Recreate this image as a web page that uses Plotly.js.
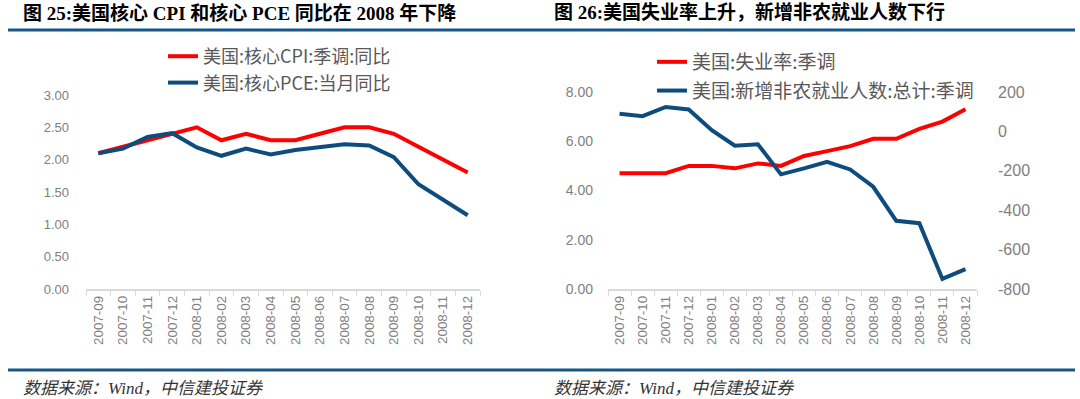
<!DOCTYPE html>
<html>
<head>
<meta charset="utf-8">
<script src="https://cdn.plot.ly/plotly-3.0.1.min.js"></script>
<style>html,body{margin:0;padding:0;background:#fff;}#chart{width:1080px;height:399px;}</style>
</head>
<body>
<div id="chart"></div>
<script>
// ---- data ----
const categories = ['2007-09','2007-10','2007-11','2007-12','2008-01','2008-02','2008-03','2008-04','2008-05','2008-06','2008-07','2008-08','2008-09','2008-10','2008-11','2008-12'];
const coreCPI = [2.1, 2.2, 2.3, 2.4, 2.5, 2.3, 2.4, 2.3, 2.3, 2.4, 2.5, 2.5, 2.4, 2.2, 2.0, 1.8];
const corePCE = [2.10, 2.17, 2.35, 2.41, 2.19, 2.06, 2.17, 2.08, 2.15, 2.20, 2.24, 2.22, 2.04, 1.62, 1.38, 1.14];
const unemployment = [4.7, 4.7, 4.7, 5.0, 5.0, 4.9, 5.1, 5.0, 5.4, 5.6, 5.8, 6.1, 6.1, 6.5, 6.8, 7.3];
const payrolls = [90, 77, 124, 111, 6, -73, -65, -218, -188, -154, -193, -281, -454, -466, -749, -699];
const payrollTickVals = [-800, -600, -400, -200, 0, 200];
const payrollTickText = ['-800', '-600', '-400', '-200', '0', '200'];
const seriesNames = ['美国:核心CPI:季调:同比', '美国:核心PCE:当月同比', '美国:失业率:季调', '美国:新增非农就业人数:总计:季调'];
const titles = ['图 25:美国核心 CPI 和核心 PCE 同比在 2008 年下降', '图 26:美国失业率上升，新增非农就业人数下行'];
const sourceText = '数据来源：Wind，中信建投证券';

// ---- styling ----
const W = 1080, H = 399;
const px = v => v / W;
const py = v => 1 - v / H;
const RED = '#FF0000', BLUE = '#0F4C7E', RULE = '#165689';
const tickFont = {family: 'Liberation Sans, Arial, sans-serif', color: '#808080'};
const legendFont = {family: 'Noto Sans CJK SC, sans-serif', color: '#595959'};

const traces = [
  {x: categories, y: coreCPI, name: seriesNames[0], legendgroup: 'a', type: 'scatter', mode: 'lines', xaxis: 'x', yaxis: 'y', legend: 'legend', line: {color: RED, width: 4}},
  {x: categories, y: corePCE, name: seriesNames[1], legendgroup: 'b', type: 'scatter', mode: 'lines', xaxis: 'x', yaxis: 'y', legend: 'legend', line: {color: BLUE, width: 4}},
  {x: categories, y: unemployment, name: seriesNames[2], legendgroup: 'c', type: 'scatter', mode: 'lines', xaxis: 'x2', yaxis: 'y2', legend: 'legend2', line: {color: RED, width: 4}},
  {x: categories, y: payrolls, name: seriesNames[3], legendgroup: 'd', type: 'scatter', mode: 'lines', xaxis: 'x2', yaxis: 'y3', legend: 'legend2', line: {color: BLUE, width: 4}}
];

const xCommon = {
  type: 'category', range: [-0.5, 15.5], showgrid: false, zeroline: false,
  showline: true, linecolor: '#D9D9D9', linewidth: 1.5,
  ticks: 'outside', tickson: 'boundaries', ticklen: 5, tickcolor: '#D9D9D9',
  tickangle: -90, tickfont: Object.assign({size: 13.4}, tickFont)
};

const layout = {
  width: W, height: H,
  margin: {l: 0, r: 0, t: 0, b: 0},
  paper_bgcolor: '#fff', plot_bgcolor: 'rgba(0,0,0,0)',
  showlegend: true,
  xaxis: Object.assign({}, xCommon, {domain: [px(86), px(480)], anchor: 'y'}),
  yaxis: {domain: [py(289), py(95)], range: [0, 3], dtick: 0.5, tickformat: '.2f', showgrid: false, zeroline: false, showline: false,
          anchor: 'x', ticks: '', ticklabelstandoff: 16, tickfont: Object.assign({size: 13}, tickFont)},
  xaxis2: Object.assign({}, xCommon, {domain: [px(608), px(977)], anchor: 'y2'}),
  yaxis2: {domain: [py(289), py(92)], range: [0, 8], dtick: 2, tickformat: '.2f', showgrid: false, zeroline: false, showline: false,
           anchor: 'x2', ticks: '', ticklabelstandoff: 14, tickfont: Object.assign({size: 14}, tickFont)},
  yaxis3: {domain: [py(289), py(92)], range: [-800, 200], tickvals: payrollTickVals, ticktext: payrollTickText, overlaying: 'y2', side: 'right',
           anchor: 'x2', showgrid: false, zeroline: false, showline: false, ticks: '', ticklabelstandoff: 20, tickfont: Object.assign({size: 16}, tickFont)},
  legend: {x: px(163), y: py(38), xanchor: 'left', yanchor: 'top', bgcolor: 'rgba(0,0,0,0)', borderwidth: 0,
           font: Object.assign({size: 18}, legendFont), tracegroupgap: 0, itemwidth: 30},
  legend2: {x: px(652), y: py(43), xanchor: 'left', yanchor: 'top', bgcolor: 'rgba(0,0,0,0)', borderwidth: 0,
            font: Object.assign({size: 19}, legendFont), tracegroupgap: 1, itemwidth: 30},
  shapes: [
    {type: 'line', xref: 'paper', yref: 'paper', x0: px(8), x1: px(1075), y0: py(30), y1: py(30), line: {color: RULE, width: 3}},
    {type: 'line', xref: 'paper', yref: 'paper', x0: px(8), x1: px(1075), y0: py(370), y1: py(370), line: {color: RULE, width: 3}}
  ],
  annotations: [
    {text: '<b>' + titles[0] + '</b>', xref: 'paper', yref: 'paper', x: px(21), y: py(13), xanchor: 'left', yanchor: 'middle', showarrow: false,
     font: {family: 'Liberation Serif, Noto Sans CJK SC, serif', size: 19, color: '#000'}},
    {text: '<b>' + titles[1] + '</b>', xref: 'paper', yref: 'paper', x: px(552), y: py(13), xanchor: 'left', yanchor: 'middle', showarrow: false,
     font: {family: 'Liberation Serif, Noto Sans CJK SC, serif', size: 19, color: '#000'}},
    {text: '<i>' + sourceText + '</i>', xref: 'paper', yref: 'paper', x: px(21), y: py(388), xanchor: 'left', yanchor: 'middle', showarrow: false,
     font: {family: 'Liberation Serif, Noto Sans CJK SC, serif', size: 17, color: '#333'}},
    {text: '<i>' + sourceText + '</i>', xref: 'paper', yref: 'paper', x: px(552), y: py(388), xanchor: 'left', yanchor: 'middle', showarrow: false,
     font: {family: 'Liberation Serif, Noto Sans CJK SC, serif', size: 17, color: '#333'}}
  ]
};

Plotly.newPlot('chart', traces, layout, {staticPlot: true, displayModeBar: false});
</script>
</body>
</html>
